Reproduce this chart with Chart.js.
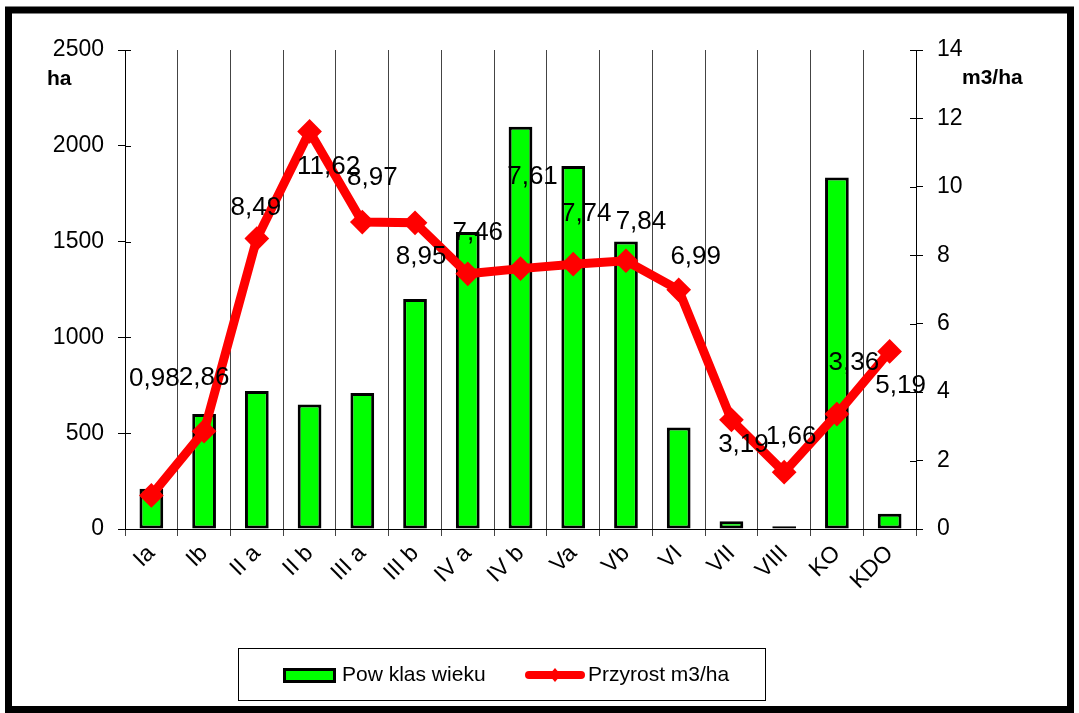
<!DOCTYPE html>
<html>
<head>
<meta charset="utf-8">
<script src="https://cdn.jsdelivr.net/npm/chart.js@4.4.1/dist/chart.umd.min.js"></script>
<style>
  html, body { margin: 0; padding: 0; background: #fff; }
  #wrap { width: 1079px; height: 713px; }
</style>
</head>
<body>
<div id="wrap"><canvas id="chart" width="1079" height="713"></canvas></div>
<script>
// data
const categories = ["Ia", "Ib", "II a", "II b", "III a", "III b", "IV a", "IV b", "Va", "Vb", "VI", "VII", "VIII", "KO", "KDO"];
const areaHa = [210, 600, 720, 650, 710, 1200, 1550, 2100, 1895, 1500, 530, 40, 15, 1835, 80];
const growth = [0.98, 2.86, 8.49, 11.62, 8.97, 8.95, 7.46, 7.61, 7.74, 7.84, 6.99, 3.19, 1.66, 3.36, 5.19];
const areaTicks = [0, 500, 1000, 1500, 2000, 2500];
const growthTicks = [0, 2, 4, 6, 8, 10, 12, 14];
const seriesNames = ["Pow klas wieku", "Przyrost m3/ha"];
const unitLeft = "ha";
const unitRight = "m3/ha";

const FONT = '"Liberation Sans", Arial, sans-serif';
const GREEN = "#00ff00";
const RED = "#ff0000";

// where each value label sits relative to its point (hand placed in the original)
const labelShift = [
  [3, -117], [0, -53], [-1, -31], [19, 35], [10, -44], [6, 34], [10, -41], [12, -92],
  [13, -50], [15, -39], [17, -33], [12, 25], [7, -35], [17, -51], [11, 34]
];

const extras = {
  id: "extras",
  afterDatasetsDraw(chart) {
    const ctx = chart.ctx;
    const meta = chart.getDatasetMeta(0);
    ctx.save();
    ctx.font = "26px " + FONT;
    ctx.fillStyle = "#000";
    ctx.textAlign = "center";
    ctx.textBaseline = "middle";
    meta.data.forEach((pt, i) => {
      const txt = growth[i].toFixed(2).replace(".", ",");
      ctx.fillText(txt, pt.x + labelShift[i][0], pt.y + labelShift[i][1]);
    });
    ctx.restore();
  },
  afterDraw(chart) {
    const ctx = chart.ctx;
    const area = chart.chartArea;
    ctx.save();

    // tick marks crossing into the plot
    ctx.strokeStyle = "#000";
    ctx.lineWidth = 1;
    const yL = chart.scales.y, yR = chart.scales.y1;
    areaTicks.forEach(v => {
      const y = Math.round(yL.getPixelForValue(v)) + 0.5;
      ctx.beginPath(); ctx.moveTo(area.left, y); ctx.lineTo(area.left + 6, y); ctx.stroke();
    });
    growthTicks.forEach(v => {
      const y = Math.round(yR.getPixelForValue(v)) + 0.5;
      ctx.beginPath(); ctx.moveTo(area.right - 6, y); ctx.lineTo(area.right, y); ctx.stroke();
    });

    // units
    ctx.fillStyle = "#000";
    ctx.font = "bold 21px " + FONT;
    ctx.textBaseline = "middle";
    ctx.textAlign = "left";
    ctx.fillText(unitLeft, 47, 79);
    ctx.fillText(unitRight, 962, 78);

    // legend
    ctx.lineWidth = 1;
    ctx.strokeRect(238.5, 648.5, 527, 52);
    ctx.fillStyle = GREEN;
    ctx.fillRect(284.5, 669.5, 50, 12);
    ctx.lineWidth = 3;
    ctx.strokeStyle = "#000";
    ctx.strokeRect(284.5, 669.5, 50, 12);
    ctx.strokeStyle = RED;
    ctx.lineWidth = 8;
    ctx.lineCap = "round";
    ctx.beginPath(); ctx.moveTo(529, 675); ctx.lineTo(581, 675); ctx.stroke();
    ctx.fillStyle = RED;
    ctx.beginPath();
    ctx.moveTo(555, 668); ctx.lineTo(561, 675); ctx.lineTo(555, 682); ctx.lineTo(549, 675);
    ctx.closePath(); ctx.fill();
    ctx.fillStyle = "#000";
    ctx.font = "21px " + FONT;
    ctx.fillText(seriesNames[0], 342, 675);
    ctx.fillText(seriesNames[1], 588, 675);

    // outer frame
    ctx.lineCap = "butt";
    ctx.strokeStyle = "#000";
    ctx.lineWidth = 7;
    ctx.strokeRect(8.5, 10, 1062, 699.5);
    ctx.restore();
  }
};

new Chart(document.getElementById("chart"), {
  data: {
    labels: categories,
    datasets: [
      {
        type: "line",
        label: seriesNames[1],
        data: growth,
        yAxisID: "y1",
        borderColor: RED,
        backgroundColor: RED,
        borderWidth: 9,
        tension: 0,
        pointStyle: "rectRot",
        pointRadius: 6,
        pointBackgroundColor: RED,
        pointBorderColor: RED,
        order: 0
      },
      {
        type: "bar",
        label: seriesNames[0],
        data: areaHa,
        yAxisID: "y",
        backgroundColor: GREEN,
        borderColor: "#000",
        borderWidth: 3,
        borderSkipped: false,
        barPercentage: 0.45,
        categoryPercentage: 1,
        order: 1
      }
    ]
  },
  options: {
    responsive: false,
    animation: false,
    devicePixelRatio: 1,
    layout: { padding: { top: 50, left: 0, right: 0, bottom: 0 } },
    plugins: {
      legend: { display: false },
      tooltip: { enabled: false }
    },
    scales: {
      x: {
        offset: true,
        grid: { offset: true, color: "#444", lineWidth: 1, tickLength: 7, drawOnChartArea: true },
        border: { color: "#000", width: 1 },
        ticks: {
          color: "#000",
          font: { family: FONT, size: 23 },
          minRotation: 45,
          maxRotation: 45,
          padding: 4
        },
        afterFit: s => { s.height = 184; }
      },
      y: {
        position: "left",
        min: 0,
        max: 2500,
        afterBuildTicks: s => { s.ticks = areaTicks.map(v => ({ value: v })); },
        grid: { drawOnChartArea: false, tickLength: 7, color: "#000" },
        border: { color: "#000", width: 1 },
        ticks: { color: "#000", font: { family: FONT, size: 23 }, padding: 14, callback: v => String(v) },
        afterFit: s => { s.width = 125; }
      },
      y1: {
        position: "right",
        min: 0,
        max: 14,
        afterBuildTicks: s => { s.ticks = growthTicks.map(v => ({ value: v })); },
        grid: { drawOnChartArea: false, tickLength: 7, color: "#000" },
        border: { color: "#000", width: 1 },
        ticks: { color: "#000", font: { family: FONT, size: 23 }, padding: 14, callback: v => String(v) },
        afterFit: s => { s.width = 163; }
      }
    }
  },
  plugins: [extras]
});
</script>
</body>
</html>
